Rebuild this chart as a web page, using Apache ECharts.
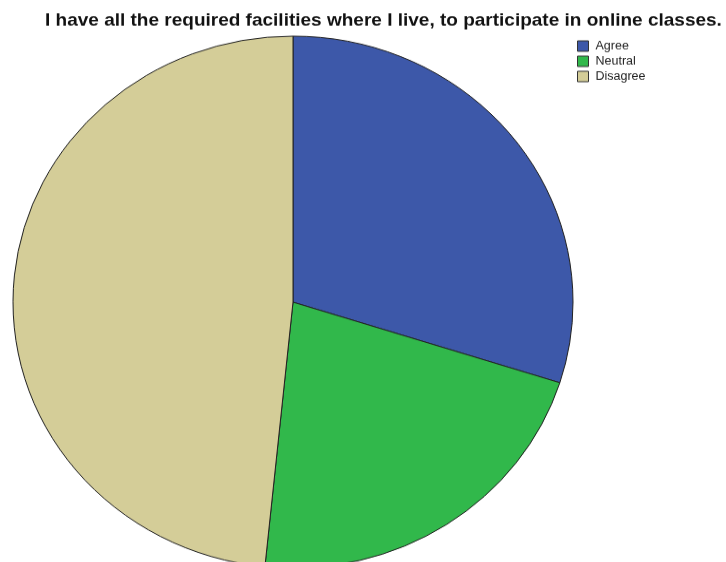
<!DOCTYPE html>
<html>
<head>
<meta charset="utf-8">
<script src="https://cdn.jsdelivr.net/npm/echarts@6/dist/echarts.min.js"></script>
<style>
  html, body { margin: 0; padding: 0; background: #fff; overflow: hidden; }
  #wrap { width: 726px; height: 562px; overflow: hidden; }
  /* the chart is drawn on a slightly taller canvas and squeezed vertically */
  #chart { width: 726px; height: 592px; transform: scaleY(0.95); transform-origin: 0 0; }
</style>
</head>
<body>
<div id="wrap"><div id="chart"></div></div>
<script>
const titleText = 'I have all the required facilities where I live, to participate in online classes.';
const categories = ['Agree', 'Neutral', 'Disagree'];
const percentages = [29.9, 21.7, 48.4];
const sliceColors = ['#3d58a9', '#31b84b', '#d4cd98'];

const chart = echarts.init(document.getElementById('chart'), null, { renderer: 'canvas' });

chart.setOption({
  animation: false,
  backgroundColor: '#ffffff',
  title: {
    text: titleText,
    left: 45,
    top: 12,
    padding: 0,
    textStyle: {
      fontFamily: 'Liberation Sans, Arial, sans-serif',
      fontSize: 19,
      fontWeight: 'bold',
      color: '#111'
    }
  },
  legend: {
    orient: 'vertical',
    left: 577,
    top: 42,
    padding: 0,
    itemWidth: 11,
    itemHeight: 11,
    itemGap: 3,
    icon: 'rect',
    itemStyle: { borderColor: '#333', borderWidth: 1 },
    textStyle: {
      fontFamily: 'Liberation Sans, Arial, sans-serif',
      fontSize: 12.5,
      color: '#222',
      padding: [0, 0, 0, 2]
    },
    data: categories
  },
  series: [{
    type: 'pie',
    center: [293, 318],
    radius: 280,
    startAngle: 90,
    clockwise: true,
    label: { show: false },
    labelLine: { show: false },
    emphasis: { disabled: true },
    itemStyle: { borderColor: '#222', borderWidth: 1 },
    data: categories.map((name, i) => ({
      name: name,
      value: percentages[i],
      itemStyle: { color: sliceColors[i] }
    }))
  }]
});
</script>
</body>
</html>
